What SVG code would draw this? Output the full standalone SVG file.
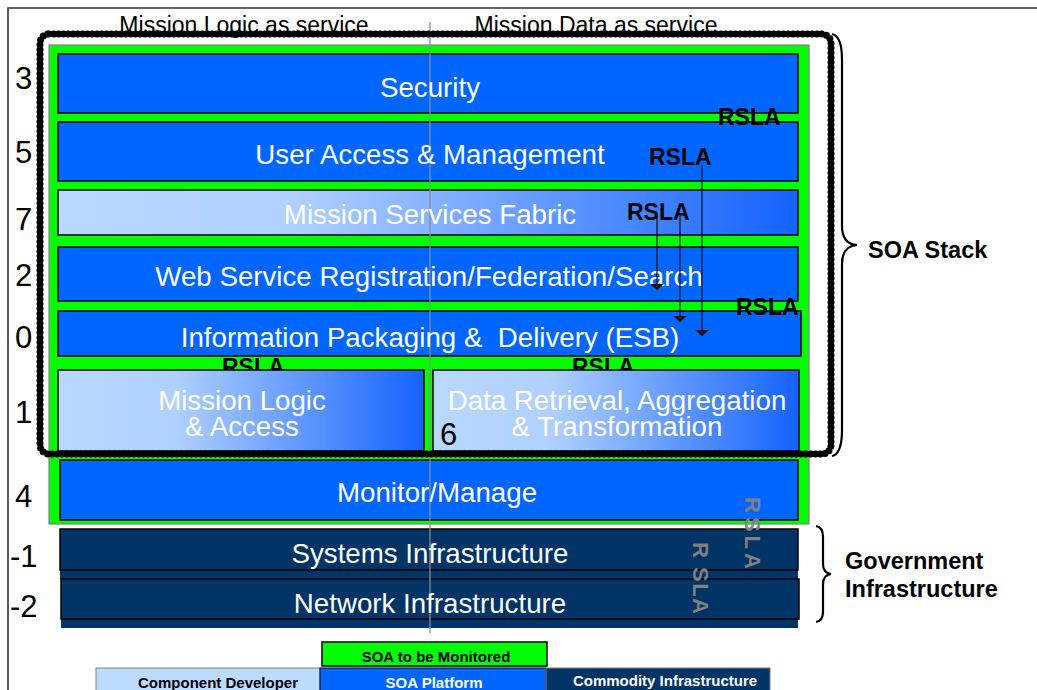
<svg xmlns="http://www.w3.org/2000/svg" width="1037" height="690" viewBox="0 0 1037 690">
  <defs>
    <linearGradient id="fade" x1="0" y1="0" x2="1" y2="0">
      <stop offset="0" stop-color="#b8d8ff"/>
      <stop offset="0.32" stop-color="#b0d0ff"/>
      <stop offset="1" stop-color="#1462ff"/>
    </linearGradient>
    <marker id="head" viewBox="-8 -8 10 16" markerWidth="10" markerHeight="16" refX="0" refY="0" orient="auto" markerUnits="userSpaceOnUse">
      <path d="M-6,-7 L0,0 L-6,7 Z" fill="#111"/>
      <circle cx="-4" cy="0" r="0.8" fill="#c00"/>
    </marker>
    <style>
      .bar { fill: #0066ff; stroke: #000; stroke-width: 1.5; }
      .grad { fill: url(#fade); stroke: #000; stroke-width: 1.5; }
      .infra { fill: #003366; stroke: #000; stroke-width: 1.5; }
      .lbl { font-family: "Liberation Sans", Arial, sans-serif; font-size: 27.7px; fill: #fff; text-anchor: middle; }
      .num { font-family: "Liberation Sans", Arial, sans-serif; font-size: 31px; fill: #000; }
      .rsla { font-family: "Liberation Sans", Arial, sans-serif; font-size: 23px; font-weight: bold; fill: #000; }
      .vrsla { font-family: "Liberation Sans", Arial, sans-serif; font-size: 22px; font-weight: bold; fill: #808080; }
      .side { font-family: "Liberation Sans", Arial, sans-serif; font-size: 23.5px; font-weight: bold; fill: #000; }
      .head { font-family: "Liberation Sans", Arial, sans-serif; font-size: 23px; fill: #000; text-anchor: middle; }
      .leg { font-family: "Liberation Sans", Arial, sans-serif; font-size: 15px; font-weight: bold; text-anchor: middle; }
      .brace { fill: none; stroke: #000; stroke-width: 2.2; }
      .link { stroke: #111; stroke-width: 1.2; fill: none; marker-end: url(#head); }
    </style>
  </defs>

  <rect x="0" y="0" width="1037" height="690" fill="#fff"/>

  <!-- page frame -->
  <path d="M8,700 L8,8 L1040,8" fill="none" stroke="#333" stroke-width="1.6"/>

  <!-- column headings -->
  <text class="head" x="244" y="33">Mission Logic as service</text>
  <text class="head" x="596" y="33">Mission Data as service</text>

  <!-- monitored SOA area -->
  <rect id="soa-monitored" x="49" y="45" width="760" height="479" fill="#00ff00" stroke="#808080" stroke-width="1.2"/>

  <g id="security"><rect class="bar" x="58" y="54" width="740" height="59"/></g>
  <g id="user-access"><rect class="bar" x="58" y="122" width="740" height="59"/></g>
  <g id="mission-services-fabric"><rect class="grad" x="58" y="190" width="740" height="45"/></g>
  <g id="web-service-registration"><rect class="bar" x="58" y="247" width="740" height="54"/></g>
  <g id="information-packaging"><rect class="bar" x="58" y="311" width="743" height="45"/></g>

  <!-- RSLA labels partly hidden by the lower boxes -->
  <text class="rsla" x="222" y="375">RSLA</text>
  <text class="rsla" x="572" y="375">RSLA</text>

  <g id="mission-logic"><rect class="grad" x="58" y="370" width="366" height="81"/></g>
  <g id="data-retrieval"><rect class="grad" x="433" y="370" width="366" height="81"/></g>
  <g id="monitor-manage"><rect class="bar" x="60" y="460" width="738" height="60"/></g>

  <g id="systems-infrastructure">
    <rect x="60" y="529" width="738" height="50" fill="#003366"/>
    <rect class="infra" x="60" y="529" width="738" height="41"/>
  </g>
  <g id="network-infrastructure">
    <rect x="61" y="578" width="737" height="50" fill="#003366"/>
    <rect class="infra" x="61" y="579" width="738" height="40"/>
  </g>

  <!-- divider between logic and data columns -->
  <line x1="430" y1="22" x2="430" y2="633" stroke="#8c8c8c" stroke-width="1.3"/>

  <!-- layer labels -->
  <text class="lbl" x="430" y="97">Security</text>
  <text class="lbl" x="430" y="164">User Access &amp; Management</text>
  <text class="lbl" x="430" y="224" fill="#f4f8ff">Mission Services Fabric</text>
  <text class="lbl" x="429" y="286">Web Service Registration/Federation/Search</text>
  <text class="lbl" x="430" y="347" xml:space="preserve">Information Packaging &amp;  Delivery (ESB)</text>
  <text class="lbl" x="242" y="410">Mission Logic<tspan x="242" dy="25.5">&amp; Access</tspan></text>
  <text class="lbl" x="617" y="410">Data Retrieval, Aggregation<tspan x="617" dy="25.5">&amp; Transformation</tspan></text>
  <text class="lbl" x="437" y="502" fill="#000">Monitor/Manage</text>
  <text class="lbl" x="430" y="563">Systems Infrastructure</text>
  <text class="lbl" x="430" y="613">Network Infrastructure</text>
  <text class="num" x="440" y="445">6</text>

  <!-- SOA stack boundary -->
  <rect x="40" y="34" width="791" height="420" rx="9" fill="none" stroke="#000" stroke-width="7" stroke-linecap="round" stroke-dasharray="0 4.8"/>

  <!-- service level agreement links -->
  <g id="connectors">
    <line class="link" x1="657" y1="216" x2="657" y2="290"/>
    <line class="link" x1="680" y1="216" x2="680" y2="322"/>
    <line class="link" x1="702" y1="165" x2="702" y2="336"/>
  </g>

  <text class="rsla" x="718" y="125">RSLA</text>
  <text class="rsla" x="649" y="165">RSLA</text>
  <text class="rsla" x="627" y="220">RSLA</text>
  <text class="rsla" x="736" y="315">RSLA</text>

  <text class="vrsla" transform="translate(745,497) rotate(90)" letter-spacing="4">RSLA</text>
  <text class="vrsla" transform="translate(693,542) rotate(90)" letter-spacing="1.5" xml:space="preserve">R SLA</text>

  <!-- layer numbers -->
  <text class="num" x="15" y="89">3</text>
  <text class="num" x="15" y="163">5</text>
  <text class="num" x="15" y="230">7</text>
  <text class="num" x="15" y="286">2</text>
  <text class="num" x="15" y="348">0</text>
  <text class="num" x="15" y="423">1</text>
  <text class="num" x="15" y="507">4</text>
  <text class="num" x="10" y="567">-1</text>
  <text class="num" x="10" y="617">-2</text>

  <!-- braces -->
  <g id="soa-stack">
    <path class="brace" d="M832,34 Q842,36 842,60 L842,226 Q842,244 857,245 Q842,246 842,264 L842,430 Q842,454 832,456"/>
    <text class="side" x="868" y="258">SOA Stack</text>
  </g>
  <g id="government-infrastructure">
    <path class="brace" d="M816,526 Q823,527 823,537 L823,564 Q823,573 831,574 Q823,575 823,584 L823,612 Q823,621 816,622"/>
    <text class="side" x="845" y="569">Government</text>
    <text class="side" x="845" y="597">Infrastructure</text>
  </g>

  <!-- legend -->
  <g id="legend">
    <rect x="322" y="642" width="225" height="24" fill="#00ff00" stroke="#000" stroke-width="1.5"/>
    <text class="leg" x="436" y="662" font-size="14" fill="#000">SOA to be Monitored</text>
    <rect x="96" y="668" width="224" height="26" fill="#bcdcff" stroke="#808080" stroke-width="1"/>
    <text class="leg" x="218" y="688" fill="#000">Component Developer</text>
    <rect x="320" y="668" width="226" height="26" fill="#0066ff" stroke="#000" stroke-width="1"/>
    <text class="leg" x="434" y="688" fill="#fff">SOA Platform</text>
    <rect x="546" y="668" width="224" height="26" fill="#003366" stroke="#808080" stroke-width="1"/>
    <text class="leg" x="665" y="686" fill="#fff">Commodity Infrastructure</text>
  </g>
</svg>
